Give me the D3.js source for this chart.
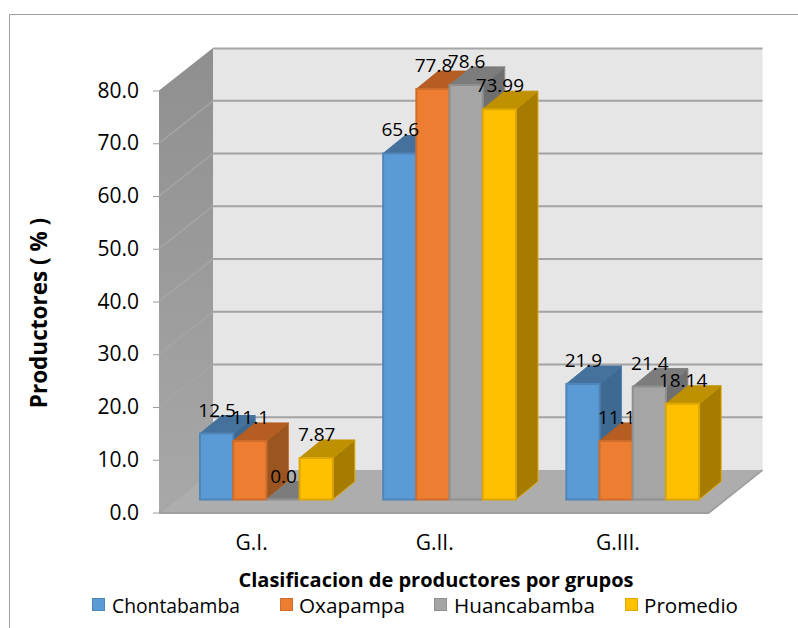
<!DOCTYPE html>
<html><head><meta charset="utf-8">
<script src="https://d3js.org/d3.v7.min.js"></script>
<style>html,body{margin:0;padding:0;background:#fff}svg{display:block}text{font-family:"Open Sans",sans-serif;fill:#000}</style>
</head><body><svg id="c" width="798" height="628"></svg>
<script>
const categories=["G.I.","G.II.","G.III."];
const seriesNames=["Chontabamba","Oxapampa","Huancabamba","Promedio"];
const chontabamba=[12.5,65.6,21.9];
const oxapampa=[11.1,77.8,11.1];
const huancabamba=[0.0,78.6,21.4];
const promedio=[7.87,73.99,18.14];
const labelText=[["12.5","65.6","21.9"],["11.1","77.8","11.1"],["0.0","78.6","21.4"],["7.87","73.99","18.14"]];
const yTicks=[0,10,20,30,40,50,60,70,80];
const allSeries=[chontabamba,oxapampa,huancabamba,promedio];
const front=["#5b9bd5","#ed7d31","#a5a5a5","#ffc000"];
const edge=["#4f86b9","#cf6d2b","#8f8f8f","#dda600"];
const top_=["#44729d","#b55d23","#7c7c7c","#bf9000"];
const side=["#3e6a91","#9a5520","#6f6f6f","#a67c00"];

const svg=d3.select("#c");
const y=d3.scaleLinear().domain([0,80]).range([512.5,90.5]);
const x=d3.scaleBand().domain(categories).range([159,708.5]).paddingInner(0).paddingOuter(0);
const wallDx=54, wallDy=-42.5, barDx=22, barDy=-18, barBase=-13;
const x0=x.range()[0], x1=x.range()[1];
const poly=(pts,fill,stroke,sw)=>svg.append("polygon").attr("points",pts.map(p=>p.join(",")).join(" ")).attr("fill",fill).attr("stroke",stroke||"none").attr("stroke-width",sw||0);

// frame
svg.append("path").attr("d","M9.5,628V14.5H798").attr("fill","none").attr("stroke","#a0a0a0").attr("stroke-width",1);

// walls and floor
const grad=svg.append("defs").append("linearGradient").attr("id","lw").attr("x1",0).attr("x2",0).attr("y1",0).attr("y2",1);
grad.append("stop").attr("offset",0).attr("stop-color","#8f8f8f");
grad.append("stop").attr("offset",1).attr("stop-color","#a8a8a8");
poly([[x0+wallDx,y(80)+wallDy],[x1+wallDx,y(80)+wallDy],[x1+wallDx,y(0)+wallDy],[x0+wallDx,y(0)+wallDy]],"#e6e6e6");
poly([[x0,y(80)],[x0+wallDx,y(80)+wallDy],[x0+wallDx,y(0)+wallDy],[x0,y(0)]],"url(#lw)");
poly([[x0,y(0)],[x0+wallDx,y(0)+wallDy],[x1+wallDx,y(0)+wallDy],[x1,y(0)]],"#adadad");
svg.append("path").attr("d",`M${x0+wallDx},${y(80)+wallDy+.5}H${x1+wallDx}`).attr("stroke","#a6a6a6").attr("stroke-width",2);

// gridlines
yTicks.forEach(t=>{
  if(t>0&&t<80) svg.append("line").attr("x1",x0+wallDx).attr("x2",x1+wallDx).attr("y1",y(t)+wallDy).attr("y2",y(t)+wallDy).attr("stroke","#a3a3a3").attr("stroke-width",2);
  if(t<80) svg.append("line").attr("x1",x0).attr("x2",x0+wallDx).attr("y1",y(t)).attr("y2",y(t)+wallDy).attr("stroke","#a6a6a6").attr("stroke-width",t?1.5:2);
});
svg.append("path").attr("d",`M${x0},${y(0)+.5}H${x1}L${x1+wallDx},${y(0)+wallDy}`).attr("fill","none").attr("stroke","#a0a0a0").attr("stroke-width",2);

// bars
const barW=33.2;
const barX=(c,s)=>x(categories[c])+41+s*barW;
categories.forEach((cat,c)=>{
  allSeries.forEach((vals,s)=>{
    const L=barX(c,s),R=L+barW,T=y(vals[c])+barBase,B=y(0)+barBase;
    poly([[R,T],[R+barDx,T+barDy],[R+barDx,B+barDy],[R,B]],side[s],edge[s],1);
    poly([[L,T],[L+barDx,T+barDy],[R+barDx,T+barDy],[R,T]],top_[s],top_[s],1);
    poly([[L,T],[R,T],[R,B],[L,B]],front[s],edge[s],2);
  });
});
// data labels
categories.forEach((cat,c)=>{
  allSeries.forEach((vals,s)=>{
    svg.append("text").attr("x",barX(c,s)+barW/2+.5).attr("y",y(vals[c])+barBase-17).attr("text-anchor","middle").attr("font-size",19).text(labelText[s][c]);
  });
});
// y axis
const axis=d3.axisLeft(y).tickValues(yTicks).tickFormat(d3.format(".1f")).tickSize(6).tickPadding(14);
const gy=svg.append("g").attr("transform",`translate(${x0},0)`).call(axis);
gy.select(".domain").remove();
gy.selectAll("line").attr("stroke","#9a9a9a");
gy.selectAll("text").attr("font-size",21).style("fill","#000").style("font-family",'"Open Sans",sans-serif');
// category labels
categories.forEach(c=>svg.append("text").attr("x",x(c)+x.bandwidth()/2+1).attr("y",550).attr("text-anchor","middle").attr("font-size",21).text(c));
// axis titles
svg.append("text").attr("transform","translate(47,313) rotate(-90)").attr("text-anchor","middle").attr("font-size",22.5).attr("font-weight","bold").text("Productores ( % )");
svg.append("text").attr("x",436).attr("y",587).attr("text-anchor","middle").attr("font-size",20).attr("font-weight","bold").text("Clasificacion de productores por grupos");
// legend
const legendSwatchX=[92,280,434,625], legendTextX=[112,299,454,644], legendTextW=[128,106,141,94];
seriesNames.forEach((n,i)=>{
  svg.append("rect").attr("x",legendSwatchX[i]+.5).attr("y",598.5).attr("width",12).attr("height",12).attr("fill",front[i]).attr("stroke",edge[i]).attr("stroke-width",1);
  svg.append("text").attr("x",legendTextX[i]).attr("y",613).attr("font-size",20.5).attr("textLength",legendTextW[i]).attr("lengthAdjust","spacingAndGlyphs").text(n);
});
</script></body></html>
